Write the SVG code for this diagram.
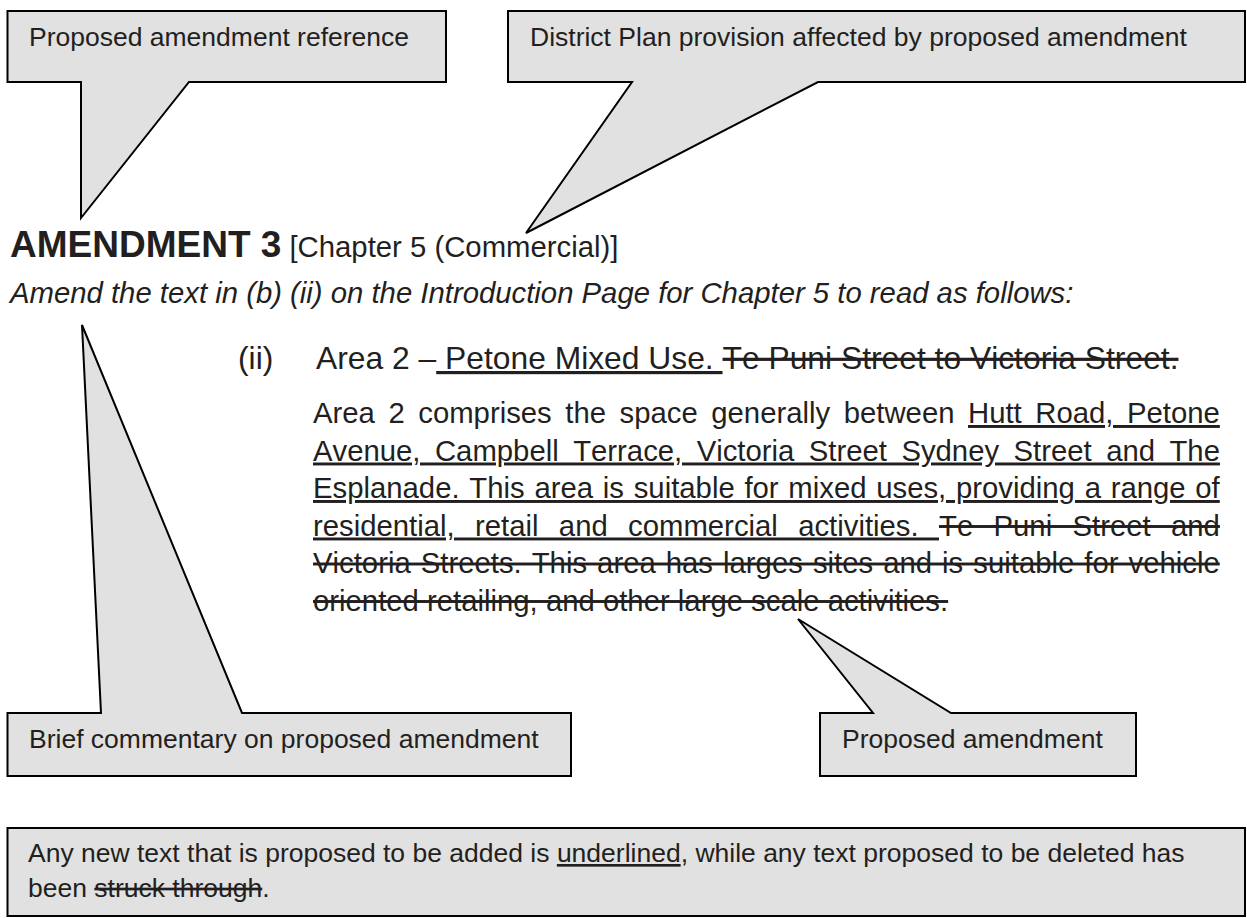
<svg xmlns="http://www.w3.org/2000/svg" width="1247" height="918" viewBox="0 0 1247 918">
<style>
text{font-family:"Liberation Sans",Arial,sans-serif;fill:#231f20;font-kerning:none}
.co{fill:#e1e1e1;stroke:#000;stroke-width:2;stroke-linejoin:miter}
.ct{font-size:26.5px}
.body{font-size:29.3px}
.u{text-decoration:underline}
.s{text-decoration:line-through}
</style>
<rect width="1247" height="918" fill="#fff"/>
<g id="callout-reference">
<path class="co" d="M7.5,11 H446 V82 H189 L81,218 V82 H7.5 Z"/>
<text class="ct" x="29" y="46">Proposed amendment reference</text>
</g>
<g id="callout-provision">
<path class="co" d="M508,11 H1245 V82 H818 L526,233 L632,82 H508 Z"/>
<text class="ct" x="530" y="46">District Plan provision affected by proposed amendment</text>
</g>
<g id="heading">
<text x="10" y="257"><tspan font-weight="bold" font-size="37px">AMENDMENT 3</tspan><tspan font-size="29.3px"> [Chapter 5 (Commercial)]</tspan></text>
<text x="10" y="303" font-style="italic" font-size="29.3px">Amend the text in (b) (ii) on the Introduction Page for Chapter 5 to read as follows:</text>
</g>
<g id="amendment-text">
<text x="238" y="369" font-size="31.8px">(ii)</text>
<text x="316" y="369" font-size="31.8px">Area 2 –<tspan class="u"> Petone Mixed Use. </tspan><tspan class="s">Te Puni Street to Victoria Street.</tspan></text>
<text class="body" x="313" y="423" word-spacing="5.4">Area 2 comprises the space generally between <tspan class="u">Hutt Road, Petone</tspan></text>
<text class="body u" x="313" y="460.5" word-spacing="6.3">Avenue, Campbell Terrace, Victoria Street Sydney Street and The</text>
<text class="body u" x="313" y="498" word-spacing="1.6">Esplanade. This area is suitable for mixed uses, providing a range of</text>
<text class="body" x="313" y="535.5" word-spacing="12.2"><tspan class="u">residential, retail and commercial activities. </tspan><tspan class="s">Te Puni Street and</tspan></text>
<text class="body s" x="313" y="573" word-spacing="1.9">Victoria Streets. This area has larges sites and is suitable for vehicle</text>
<text class="body s" x="313" y="610.5">oriented retailing, and other large scale activities.</text>
</g>
<g id="callout-commentary">
<path class="co" d="M7.5,776 V713 H101 L82,325 L242,713 H571 V776 Z"/>
<text class="ct" x="29" y="748">Brief commentary on proposed amendment</text>
</g>
<g id="callout-amendment">
<path class="co" d="M820,776 V713 H873 L798,619 L951,713 H1136 V776 Z"/>
<text class="ct" x="842" y="748">Proposed amendment</text>
</g>
<g id="note">
<rect class="co" x="7.5" y="828" width="1237.5" height="88"/>
<text class="ct" font-size="26.3px" x="28" y="862">Any new text that is proposed to be added is <tspan class="u">underlined</tspan>, while any text proposed to be deleted has</text>
<text class="ct" font-size="26.3px" x="28" y="897">been <tspan class="s">struck through</tspan>.</text>
</g>
</svg>
